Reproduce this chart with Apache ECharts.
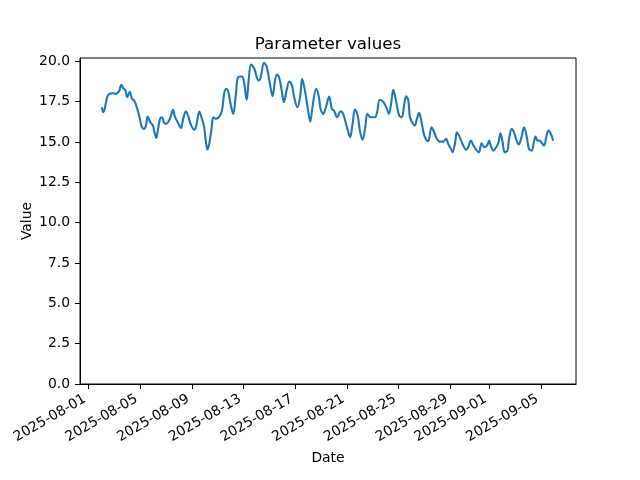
<!DOCTYPE html>
<html>
<head>
<meta charset="utf-8">
<script src="https://cdn.jsdelivr.net/npm/echarts@6/dist/echarts.min.js"></script>
<style>html,body{margin:0;padding:0;background:#fff}#c{width:640px;height:480px}</style>
</head>
<body>
<div id="c"></div>
<script>
const dates = [
'2025-08-02 01:00','2025-08-02 04:00','2025-08-02 06:00','2025-08-02 11:00','2025-08-02 15:00','2025-08-02 22:00',
'2025-08-03 03:00','2025-08-03 07:00','2025-08-03 10:00','2025-08-03 13:00','2025-08-03 17:00','2025-08-03 21:00',
'2025-08-04 00:00','2025-08-04 05:00','2025-08-04 09:00','2025-08-04 13:00','2025-08-04 18:00','2025-08-04 23:00',
'2025-08-05 03:00','2025-08-05 07:00','2025-08-05 11:00','2025-08-05 14:00','2025-08-05 19:00',
'2025-08-06 00:00','2025-08-06 02:00','2025-08-06 06:00','2025-08-06 09:00','2025-08-06 13:00','2025-08-06 17:00','2025-08-06 20:00',
'2025-08-07 00:00','2025-08-07 04:00','2025-08-07 09:00','2025-08-07 13:00','2025-08-07 17:00','2025-08-07 22:00',
'2025-08-08 04:00','2025-08-08 08:00','2025-08-08 13:00','2025-08-08 18:00','2025-08-08 23:00',
'2025-08-09 05:00','2025-08-09 09:00','2025-08-09 14:00','2025-08-09 18:00','2025-08-09 23:00',
'2025-08-10 02:00','2025-08-10 05:00','2025-08-10 09:00','2025-08-10 13:00','2025-08-10 16:00','2025-08-10 21:00',
'2025-08-11 03:00','2025-08-11 08:00','2025-08-11 12:00','2025-08-11 16:00','2025-08-11 20:00',
'2025-08-12 00:00','2025-08-12 05:00','2025-08-12 10:00','2025-08-12 14:00','2025-08-12 21:00',
'2025-08-13 01:00','2025-08-13 06:00','2025-08-13 09:00','2025-08-13 14:00','2025-08-13 20:00',
'2025-08-14 04:00','2025-08-14 08:00','2025-08-14 14:00','2025-08-14 19:00',
'2025-08-15 01:00','2025-08-15 06:00','2025-08-15 10:00','2025-08-15 14:00','2025-08-15 18:00','2025-08-15 23:00',
'2025-08-16 03:00','2025-08-16 08:00','2025-08-16 13:00','2025-08-16 18:00','2025-08-16 22:00',
'2025-08-17 04:00','2025-08-17 09:00','2025-08-17 13:00','2025-08-17 18:00','2025-08-17 23:00',
'2025-08-18 04:00','2025-08-18 08:00','2025-08-18 15:00','2025-08-18 20:00','2025-08-18 23:00',
'2025-08-19 04:00','2025-08-19 09:00','2025-08-19 15:00','2025-08-19 20:00',
'2025-08-20 00:00','2025-08-20 06:00','2025-08-20 12:00','2025-08-20 17:00',
'2025-08-21 00:00','2025-08-21 06:00','2025-08-21 10:00','2025-08-21 15:00','2025-08-21 20:00',
'2025-08-22 00:00','2025-08-22 05:00','2025-08-22 10:00','2025-08-22 14:00','2025-08-22 20:00',
'2025-08-23 04:00','2025-08-23 08:00','2025-08-23 13:00','2025-08-23 20:00',
'2025-08-24 01:00','2025-08-24 06:00','2025-08-24 10:00','2025-08-24 14:00','2025-08-24 19:00',
'2025-08-25 01:00','2025-08-25 06:00','2025-08-25 10:00','2025-08-25 14:00','2025-08-25 18:00','2025-08-25 21:00',
'2025-08-26 02:00','2025-08-26 06:00','2025-08-26 10:00','2025-08-26 14:00','2025-08-26 18:00','2025-08-26 22:00',
'2025-08-27 03:00','2025-08-27 07:00','2025-08-27 13:00','2025-08-27 18:00','2025-08-27 23:00',
'2025-08-28 04:00','2025-08-28 11:00','2025-08-28 16:00','2025-08-28 20:00',
'2025-08-29 01:00','2025-08-29 04:00','2025-08-29 09:00','2025-08-29 12:00','2025-08-29 16:00','2025-08-29 20:00',
'2025-08-30 00:00','2025-08-30 05:00','2025-08-30 09:00','2025-08-30 14:00','2025-08-30 19:00',
'2025-08-31 00:00','2025-08-31 05:00','2025-08-31 10:00','2025-08-31 15:00','2025-08-31 20:00',
'2025-09-01 00:00','2025-09-01 03:00','2025-09-01 08:00','2025-09-01 13:00','2025-09-01 17:00','2025-09-01 21:00',
'2025-09-02 01:00','2025-09-02 05:00','2025-09-02 10:00','2025-09-02 13:00','2025-09-02 18:00','2025-09-02 22:00',
'2025-09-03 03:00','2025-09-03 07:00','2025-09-03 12:00','2025-09-03 17:00','2025-09-03 22:00',
'2025-09-04 02:00','2025-09-04 07:00','2025-09-04 11:00','2025-09-04 14:00','2025-09-04 18:00','2025-09-04 22:00',
'2025-09-05 03:00','2025-09-05 06:00','2025-09-05 10:00','2025-09-05 14:00','2025-09-05 18:00','2025-09-05 23:00'
];
const values = [
17.15,16.84,16.99,17.77,17.98,18.02,
17.98,18.06,18.23,18.54,18.33,18.18,
17.77,18.10,17.67,17.56,17.15,16.53,
15.95,15.81,16.01,16.57,16.22,
16.01,15.70,15.25,15.70,16.43,16.53,16.22,
16.12,16.22,16.57,16.99,16.53,16.22,
15.87,16.43,16.90,16.53,16.01,
15.75,16.12,16.88,16.53,15.91,
15.08,14.53,14.98,15.91,16.53,16.43,
16.57,16.94,17.98,18.29,18.08,
17.36,16.74,17.98,19.01,19.05,
18.70,17.61,18.60,19.80,19.53,
18.80,19.01,19.90,19.67,
18.60,17.83,18.70,19.18,19.01,18.18,
17.46,18.18,18.74,18.49,17.77,
17.15,17.77,18.91,18.18,17.15,
16.26,17.15,18.29,17.77,17.05,
16.74,17.15,17.81,17.05,
16.94,16.53,16.90,16.74,
15.91,15.29,16.01,17.01,16.63,
15.70,15.13,15.91,16.74,16.53,
16.53,16.84,17.61,17.46,
17.15,16.74,17.36,18.23,17.56,
16.63,16.53,17.25,17.83,17.56,16.53,
16.16,16.01,16.43,16.80,16.32,15.60,
15.13,15.04,15.91,15.60,15.19,
15.02,15.02,15.19,14.88,
14.57,14.36,14.98,15.60,15.39,15.08,
14.77,14.51,14.67,15.08,14.77,
14.51,14.36,14.92,14.67,14.77,
15.08,14.77,14.46,14.67,14.92,15.54,
14.98,14.36,14.46,15.19,15.81,15.60,
15.08,14.84,15.29,15.91,15.29,
14.57,14.46,14.98,15.33,15.08,15.08,
14.88,14.77,15.29,15.70,15.54,15.08
];
const xTickLabels = ['2025-08-01','2025-08-05','2025-08-09','2025-08-13','2025-08-17','2025-08-21','2025-08-25','2025-08-29','2025-09-01','2025-09-05'];
const yTicks = [0, 2.5, 5, 7.5, 10, 12.5, 15, 17.5, 20];
const xRange = ['2025-07-31 08:30', '2025-09-07 17:15'];
const yRange = [0, 20.2];

function toTs(s) {
  const m = s.match(/(\d+)-(\d+)-(\d+)(?:\s+(\d+):(\d+))?/);
  return new Date(+m[1], +m[2] - 1, +m[3], m[4] ? +m[4] : 0, m[5] ? +m[5] : 0).getTime();
}
function pad(n) { return (n < 10 ? '0' : '') + n; }
function fmtDate(v) {
  const d = new Date(v);
  return d.getFullYear() + '-' + pad(d.getMonth() + 1) + '-' + pad(d.getDate());
}

const seriesData = dates.map((d, i) => [toTs(d), values[i]]);
const xTicks = xTickLabels.map(toTs);
const FONT = 'DejaVu Sans';

const chart = echarts.init(document.getElementById('c'), null, { renderer: 'canvas' });
chart.setOption({
  animation: false,
  backgroundColor: '#ffffff',
  textStyle: { fontFamily: FONT },
  title: {
    text: 'Parameter values',
    left: 323, top: 31,
    textAlign: 'center',
    textStyle: { fontFamily: FONT, fontSize: 16.7, fontWeight: 'normal', color: '#000' }
  },
  grid: {
    left: 80, top: 58, width: 496, height: 326,
    show: true, borderColor: '#000', borderWidth: 1, backgroundColor: 'transparent'
  },
  xAxis: {
    type: 'value',
    min: toTs(xRange[0]), max: toTs(xRange[1]),
    scale: true,
    name: 'Date', nameLocation: 'middle', nameGap: 67, nameMoveOverlap: false,
    nameTextStyle: { fontFamily: FONT, fontSize: 13.9, color: '#000' },
    axisLine: { show: true, onZero: false, lineStyle: { color: '#000', width: 1 } },
    axisTick: { show: true, length: 5, lineStyle: { color: '#000', width: 1 }, customValues: xTicks },
    axisLabel: {
      customValues: xTicks,
      rotate: 30, margin: 12, padding: [0, 4, 0, 0],
      fontFamily: FONT, fontSize: 13.9, color: '#000',
      formatter: v => fmtDate(v)
    },
    splitLine: { show: false }
  },
  yAxis: {
    type: 'value',
    min: yRange[0], max: yRange[1],
    name: 'Value', nameLocation: 'middle', nameGap: 46, nameRotate: 90, nameMoveOverlap: false,
    nameTextStyle: { fontFamily: FONT, fontSize: 13.9, color: '#000' },
    axisLine: { show: true, lineStyle: { color: '#000', width: 1 } },
    axisTick: { show: true, length: 5, lineStyle: { color: '#000', width: 1 }, customValues: yTicks },
    axisLabel: {
      customValues: yTicks,
      margin: 10, fontFamily: FONT, fontSize: 13.9, color: '#000',
      formatter: v => Number(v).toFixed(1)
    },
    splitLine: { show: false }
  },
  series: [{
    type: 'line',
    data: seriesData,
    showSymbol: false,
    smooth: 0.35,
    lineStyle: { color: '#1f77b4', width: 2.1 },
    itemStyle: { color: '#1f77b4' }
  }]
});
</script>
</body>
</html>
